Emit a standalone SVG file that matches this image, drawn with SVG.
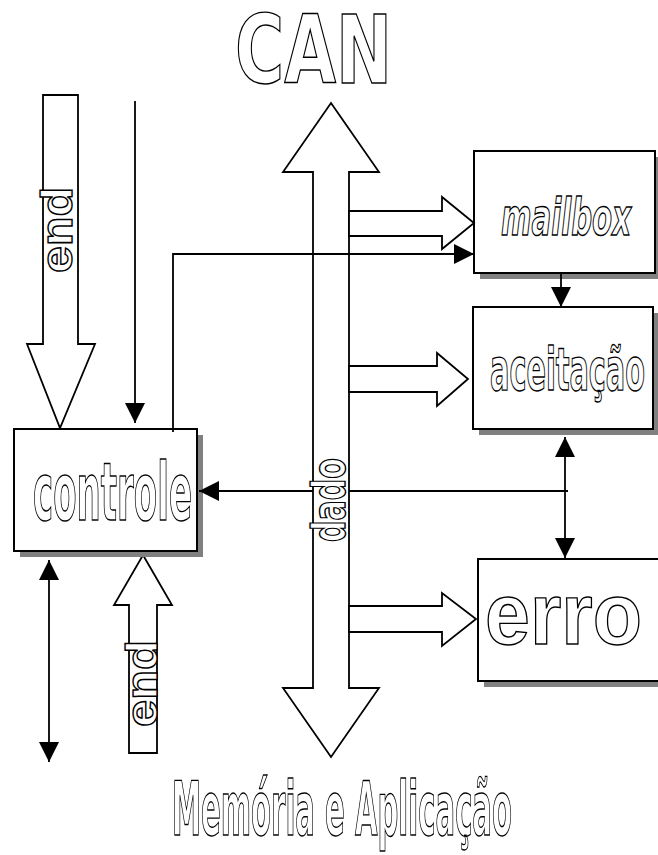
<svg xmlns="http://www.w3.org/2000/svg" width="658" height="855" viewBox="0 0 658 855">
<defs>
<style>
.ol{font-family:"Liberation Sans Narrow","DejaVu Sans Condensed","DejaVu Sans",sans-serif;font-stretch:condensed;font-weight:bold;fill:#fff;stroke:#000;stroke-width:1.4}
.wd{font-family:"Liberation Sans","DejaVu Sans",sans-serif;font-stretch:normal}
.box{fill:#fff;stroke:#000;stroke-width:2}
.sh{fill:#808080}
.hol{fill:#fff;stroke:#000;stroke-width:1.8;stroke-linejoin:miter}
.ln{fill:none;stroke:#000;stroke-width:1.8}
</style>
<marker id="ah" markerUnits="userSpaceOnUse" markerWidth="20" markerHeight="20" refX="20" refY="10" orient="auto-start-reverse" viewBox="0 0 20 20">
<path d="M0,0 L20,10 L0,20 z" fill="#000"/>
</marker>
</defs>
<rect width="658" height="855" fill="#fff"/>

<g id="title-can"><text class="ol" x="235" y="83" font-size="95" textLength="157" lengthAdjust="spacingAndGlyphs">CAN</text></g>

<g id="bus">
<polygon class="hol" points="331,103 379,172 349,172 349,688 379,688 331,757 283,688 313,688 313,172 283,172"/>
<text class="ol" transform="translate(345,542) rotate(-90)" font-size="46" textLength="84" lengthAdjust="spacingAndGlyphs">dado</text>
</g>

<g id="end-top">
<polygon class="hol" points="43,95 78,95 78,344 95,344 60,428 27,344 43,344"/>
<text class="ol wd" transform="translate(72,273) rotate(-90)" font-size="45" textLength="86" lengthAdjust="spacingAndGlyphs">end</text>
</g>

<g id="end-bottom">
<polygon class="hol" points="143,555 172,605 157,605 157,753 129,753 129,605 114,605"/>
<text class="ol wd" transform="translate(157,727) rotate(-90)" font-size="45" textLength="87" lengthAdjust="spacingAndGlyphs">end</text>
</g>

<g id="controle">
<rect class="sh" x="20" y="435" width="183" height="122"/>
<rect class="box" x="14" y="429" width="183" height="122"/>
<text class="ol" x="33" y="520" font-size="80" textLength="159" lengthAdjust="spacingAndGlyphs">controle</text>
</g>

<g id="mailbox">
<rect class="sh" x="480" y="157" width="178" height="122"/>
<rect class="box" x="474" y="151" width="181" height="122"/>
<text class="ol" x="501" y="235" font-size="52" font-style="italic" textLength="130" lengthAdjust="spacingAndGlyphs">mailbox</text>
</g>

<g id="aceitacao">
<rect class="sh" x="479" y="313" width="179" height="122"/>
<rect class="box" x="473" y="307" width="180" height="122"/>
<text class="ol" x="490" y="390" font-size="58" textLength="155" lengthAdjust="spacingAndGlyphs">aceitação</text>
</g>

<g id="erro">
<rect class="sh" x="484" y="565" width="200" height="122"/>
<rect class="box" x="478" y="559" width="200" height="122"/>
<text class="ol wd" x="485" y="644" font-size="88" textLength="157" lengthAdjust="spacingAndGlyphs">erro</text>
</g>

<g id="title-mem"><text class="ol" x="172" y="835" font-size="74" textLength="340" lengthAdjust="spacingAndGlyphs">Memória e Aplicação</text></g>

<g id="connectors">
<polygon class="hol" points="349,211 442,211 442,197 474,223 442,249 442,236 349,236"/>
<polygon class="hol" points="349,366 437,366 437,353 468,379 437,406 437,392 349,392"/>
<polygon class="hol" points="349,606 442,606 442,593 476,619 442,646 442,632 349,632"/>
<line class="ln" x1="135" y1="101" x2="135" y2="423" marker-end="url(#ah)"/>
<path class="ln" d="M173,432 V254 H474" marker-end="url(#ah)"/>
<line class="ln" x1="561" y1="273" x2="561" y2="307" marker-end="url(#ah)"/>
<line class="ln" x1="565" y1="437" x2="565" y2="558" marker-start="url(#ah)" marker-end="url(#ah)"/>
<line class="ln" x1="568" y1="491" x2="349" y2="491"/>
<line class="ln" x1="313" y1="491" x2="199" y2="491" marker-end="url(#ah)"/>
<line class="ln" x1="49" y1="560" x2="49" y2="762" marker-start="url(#ah)" marker-end="url(#ah)"/>
</g>
</svg>
